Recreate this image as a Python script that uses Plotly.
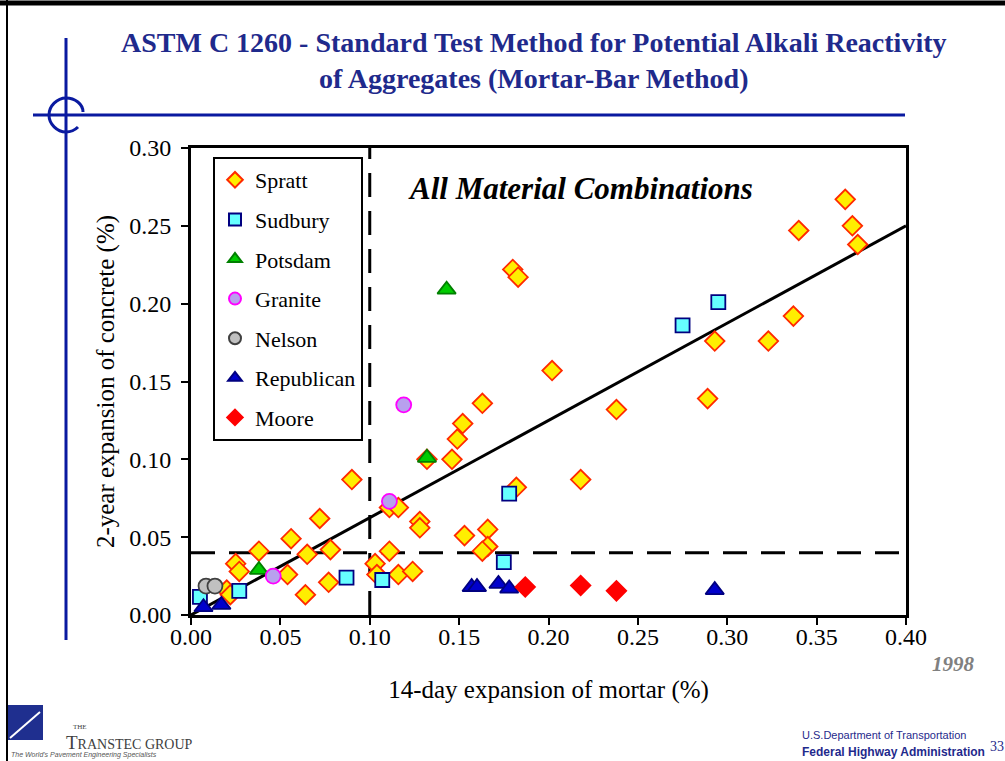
import plotly.graph_objects as go

# 14-day mortar expansion (%) vs 2-year concrete expansion (%)
spratt_x = [0.366, 0.370, 0.373, 0.340, 0.337, 0.323, 0.293, 0.289, 0.238, 0.202,
            0.180, 0.183, 0.163, 0.152, 0.149, 0.146, 0.182, 0.218, 0.153, 0.166,
            0.166, 0.163, 0.132, 0.090, 0.072, 0.056, 0.038, 0.025, 0.027, 0.065,
            0.078, 0.054, 0.064, 0.077, 0.020, 0.022, 0.111, 0.116, 0.128, 0.128,
            0.103, 0.104, 0.111, 0.116, 0.124]
spratt_y = [0.267, 0.250, 0.238, 0.247, 0.192, 0.176, 0.176, 0.139, 0.132, 0.157,
            0.222, 0.217, 0.136, 0.123, 0.113, 0.100, 0.082, 0.087, 0.051, 0.055,
            0.044, 0.041, 0.100, 0.087, 0.062, 0.049, 0.041, 0.033, 0.028, 0.039,
            0.042, 0.026, 0.013, 0.021, 0.016, 0.013, 0.069, 0.069, 0.060, 0.056,
            0.033, 0.026, 0.041, 0.026, 0.028]

sudbury_x = [0.275, 0.295, 0.178, 0.175, 0.087, 0.107, 0.027, 0.005]
sudbury_y = [0.186, 0.201, 0.078, 0.034, 0.024, 0.0225, 0.0155, 0.0116]

potsdam_x = [0.143, 0.132, 0.038]
potsdam_y = [0.209, 0.101, 0.029]

granite_x = [0.119, 0.111, 0.046]
granite_y = [0.135, 0.073, 0.025]

nelson_x = [0.0084, 0.0134]
nelson_y = [0.0186, 0.0186]

republican_x = [0.157, 0.160, 0.172, 0.178, 0.293, 0.007, 0.017]
republican_y = [0.018, 0.018, 0.020, 0.017, 0.016, 0.005, 0.0065]

moore_x = [0.187, 0.218, 0.238]
moore_y = [0.018, 0.019, 0.0155]

fit_x = [0.0, 0.40]
fit_y = [0.0, 0.25]

mortar_limit = 0.10
concrete_limit = 0.04

x_ticks = [0.00, 0.05, 0.10, 0.15, 0.20, 0.25, 0.30, 0.35, 0.40]
y_ticks = [0.00, 0.05, 0.10, 0.15, 0.20, 0.25, 0.30]

SERIF = "Liberation Serif, Times New Roman, serif"
NARROW = "Liberation Sans Narrow, Arial Narrow, sans-serif"
BLUE = "#1F2A8C"
W, H = 1005, 761
L, R, T, B = 191, 906, 148, 615


def px(x):
    return (x - L) / (R - L)


def py(y):
    return (B - y) / (B - T)


fig = go.Figure()

# reference lines
fig.add_trace(go.Scatter(x=[mortar_limit, mortar_limit], y=[0, 0.30], mode="lines",
                         line=dict(color="black", width=3, dash="24px,14px"),
                         showlegend=False, hoverinfo="skip"))
fig.add_trace(go.Scatter(x=[0, 0.40], y=[concrete_limit, concrete_limit], mode="lines",
                         line=dict(color="black", width=3, dash="24px,14px"),
                         showlegend=False, hoverinfo="skip"))
fig.add_trace(go.Scatter(x=fit_x, y=fit_y, mode="lines",
                         line=dict(color="black", width=3),
                         showlegend=False, hoverinfo="skip"))

series = [
    ("Spratt", spratt_x, spratt_y, "diamond", "#FFEE00", "#FF2A00", 15),
    ("Sudbury", sudbury_x, sudbury_y, "square", "#66FFFF", "#000080", 14),
    ("Potsdam", potsdam_x, potsdam_y, "triangle-up", "#00CC00", "#008000", 16),
    ("Granite", granite_x, granite_y, "circle", "#B8A0EE", "#FF00FF", 15),
    ("Nelson", nelson_x, nelson_y, "circle", "#C0C0C0", "#404040", 15),
    ("Republican", republican_x, republican_y, "triangle-up", "#0000CC", "#000080", 16),
    ("Moore", moore_x, moore_y, "diamond", "#FF0000", "#FF0000", 15),
]
for i, (name, xs, ys, sym, fill, edge, size) in enumerate(series):
    fig.add_trace(go.Scatter(
        x=xs, y=ys, mode="markers", name=name, legendgroup=f"g{i}",
        marker=dict(symbol=sym, color=fill, size=size,
                    line=dict(color=edge, width=1.8)),
    ))

ring = (f"M {px(83)} {py(112)} "
        f"C {px(83)} {py(104)}, {px(75)} {py(98)}, {px(66)} {py(98)} "
        f"C {px(57)} {py(98)}, {px(49)} {py(106)}, {px(49)} {py(115)} "
        f"C {px(49)} {py(124)}, {px(57)} {py(132)}, {px(66)} {py(132)} "
        f"C {px(71)} {py(132)}, {px(75)} {py(130)}, {px(78)} {py(127)}")

shapes = [
    # slide frame
    dict(type="line", xref="paper", yref="paper", x0=px(0), x1=px(W), y0=py(3), y1=py(3),
         line=dict(color="black", width=5)),
    dict(type="line", xref="paper", yref="paper", x0=px(7), x1=px(7), y0=py(0), y1=py(H),
         line=dict(color="black", width=2)),
    # blue slide decoration
    dict(type="line", xref="paper", yref="paper", x0=px(66), x1=px(66), y0=py(38), y1=py(640),
         line=dict(color="#0A1AA0", width=3)),
    dict(type="line", xref="paper", yref="paper", x0=px(33), x1=px(905), y0=py(115), y1=py(115),
         line=dict(color="#0A1AA0", width=3)),
    dict(type="path", xref="paper", yref="paper", path=ring,
         line=dict(color="#0A1AA0", width=3)),
    # Transtec logo square
    dict(type="rect", xref="paper", yref="paper", x0=px(8), x1=px(43), y0=py(740), y1=py(705),
         fillcolor="#1F2F8F", line=dict(width=0)),
    dict(type="line", xref="paper", yref="paper", x0=px(10), x1=px(40), y0=py(738), y1=py(712),
         line=dict(color="white", width=2)),
]


def note(text, x, y, size, color="black", family=SERIF, xanchor="center"):
    return dict(text=text, xref="paper", yref="paper", x=px(x), y=py(y),
                xanchor=xanchor, yanchor="middle", showarrow=False, align="center",
                font=dict(family=family, size=size, color=color))


annotations = [
    note("<b>ASTM C 1260 - Standard Test Method for Potential Alkali Reactivity<br>"
         "of Aggregates (Mortar-Bar Method)</b>", 533, 61, 28, BLUE),
    note("<b><i>All Material Combinations</i></b>", 580, 188, 31),
    note("<b><i>1998</i></b>", 953, 664, 21, "#808080"),
    note("THE", 80, 727, 7, "#404040"),
    note("T<span style='font-size:14px'>RANSTEC GROUP</span>", 64, 742, 19, "#404040",
         xanchor="left"),
    note("<i>The World's Pavement Engineering Specialists</i>", 9, 755, 7, "#555555",
         family="Liberation Sans, Arial, sans-serif", xanchor="left"),
    note("U.S.Department of Transportation", 800, 735, 11, BLUE, NARROW, "left"),
    note("<b>Federal Highway Administration</b>", 800, 752, 12, BLUE, NARROW, "left"),
    note("33", 988, 746, 14, BLUE, xanchor="left"),
]

axis_common = dict(
    showgrid=False, zeroline=False, showline=True, linecolor="black", linewidth=3,
    mirror=True, ticks="outside", ticklen=7, tickwidth=2, tickcolor="black",
    tickformat=".2f", tickfont=dict(family=SERIF, size=24, color="black"),
)

fig.update_layout(
    width=W, height=H,
    margin=dict(l=L, r=W - R, t=T, b=H - B),
    paper_bgcolor="white", plot_bgcolor="white",
    font=dict(family=SERIF, color="black"),
    xaxis=dict(range=[0, 0.40], tickvals=x_ticks, ticklabelstandoff=-9,
               title=dict(text="14-day expansion of mortar (%)",
                          font=dict(family=SERIF, size=25), standoff=32),
               **axis_common),
    yaxis=dict(range=[0, 0.30], tickvals=y_ticks, ticklabelstandoff=5,
               title=dict(text="2-year expansion of concrete (%)",
                          font=dict(family=SERIF, size=25), standoff=8),
               **axis_common),
    legend=dict(x=px(213), y=py(157), xanchor="left", yanchor="top",
                bgcolor="white", bordercolor="black", borderwidth=2,
                font=dict(family=SERIF, size=22, color="black"),
                tracegroupgap=8, itemsizing="constant"),
    shapes=shapes,
    annotations=annotations,
)

fig.write_html("out.html", config={"displayModeBar": False},
               post_script="document.body.style.margin='0';")
